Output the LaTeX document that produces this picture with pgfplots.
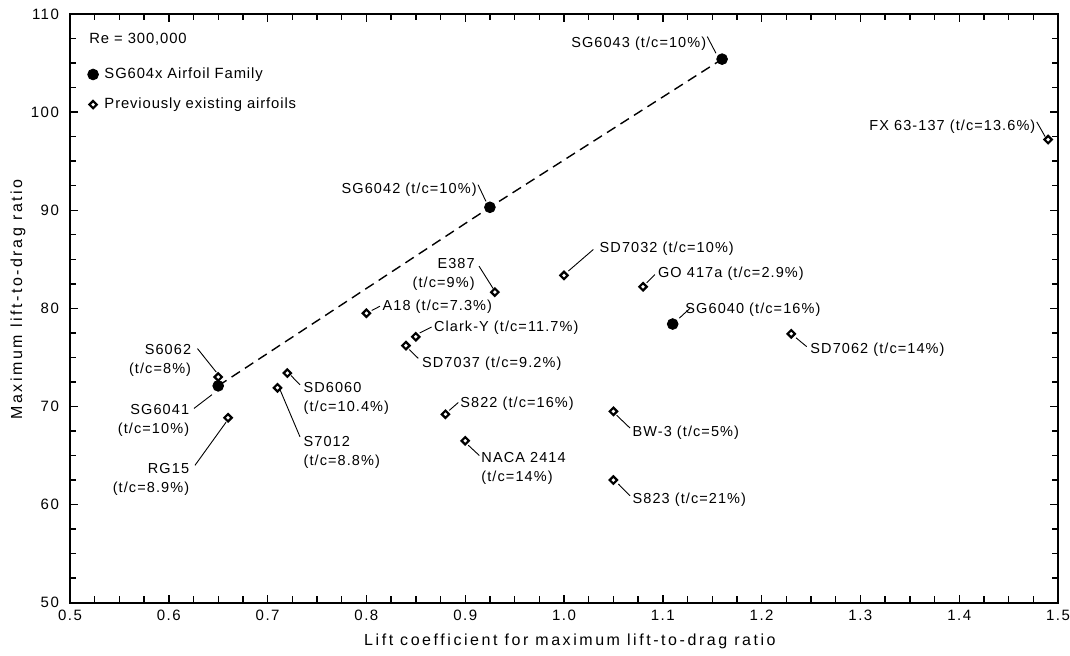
\documentclass[border=0pt]{standalone}
\usepackage{fontspec}
\setmainfont{Liberation Sans}
\newfontfamily\annfont[LetterSpace=7.5]{Liberation Sans}
\newfontfamily\legfont[LetterSpace=6]{Liberation Sans}
\newfontfamily\tickfont[LetterSpace=10]{Liberation Sans}
\newfontfamily\labfont[LetterSpace=16]{Liberation Sans}
\usepackage{pgfplots}
\pgfplotsset{compat=1.18}
\newcommand\annf{\annfont\fontsize{7.25}{9.5}\selectfont}
\newcommand\legf{\legfont\fontsize{7.4}{9}\selectfont}
\begin{document}
\begin{tikzpicture}
\path[use as bounding box] (-35pt,-26.65pt) rectangle (500pt,301.35pt);
\begin{axis}[
  at={(0pt,0pt)}, anchor=south west,
  scale only axis, width=494pt, height=294.35pt,
  xmin=0.5, xmax=1.5, ymin=50, ymax=110,
  xtick={0.5,0.6,0.7,0.8,0.9,1.0,1.1,1.2,1.3,1.4,1.5},
  ytick={50,60,70,80,90,100,110},
  minor x tick num=3, minor y tick num=3,
  xtick pos=both, ytick pos=both,
  xticklabel pos=lower, yticklabel pos=left,
  tick align=inside,
  major tick length=4pt, minor tick length=3.2pt,
  axis line style={line width=0.85pt},
  every tick/.style={line width=0.7pt, black},
  /pgf/number format/assume math mode=true,
  xticklabel style={/pgf/number format/fixed, /pgf/number format/fixed zerofill, /pgf/number format/precision=1},
  tick label style={font=\tickfont\fontsize{7.5}{9}\selectfont},
  yticklabel style={xshift=-2pt},
  xlabel={Lift coefficient for maximum lift-to-drag ratio},
  ylabel={Maximum lift-to-drag ratio},
  label style={font=\labfont\fontsize{8}{9.6}\selectfont},
  xlabel style={at={(axis description cs:0.506,-0.0652)}, anchor=center},
  ylabel style={at={(axis description cs:-0.0526,0.515)}, anchor=center},
  clip=false,
  legend style={draw=none, fill=none, inner sep=0pt, at={(axis description cs:0.0175,0.913)}, anchor=north west,
    nodes={inner sep=1pt}, row sep=6.2pt, font=\legf,
    /tikz/every odd column/.append style={column sep=2pt}},
  legend cell align=left,
  legend image code/.code={\draw[mark repeat=2,mark phase=2,#1] plot coordinates {(0pt,0pt) (2.5pt,0pt) (5pt,0pt)};},
]
% dashed trend line through the SG604x family
\addplot[forget plot, black, line width=0.7pt, dash pattern=on 5pt off 3pt] coordinates {
  (0.65,72.1) (0.925,90.3) (1.16,105.4)
};
\addplot[only marks, mark=*, mark size=2.7pt, black] coordinates {
  (1.11,78.4) (0.65,72.1) (0.925,90.3) (1.16,105.4)
};
\addlegendentry{SG604x Airfoil Family}
\addplot[only marks, mark=square*, mark size=1.3pt,
  mark options={rotate=45, fill=white, draw=black, line width=1.1pt}] coordinates {
  (0.65,73.0) (0.66,68.85) (0.71,71.9) (0.72,73.4) (0.80,79.5) (0.84,76.2)
  (0.85,77.1) (0.93,81.65) (0.88,69.2) (0.90,66.5) (1.00,83.35) (1.08,82.2)
  (1.05,69.5) (1.05,62.5) (1.23,77.4) (1.49,97.2)
};
\addlegendentry{Previously existing airfoils}

\node[anchor=west, inner sep=0pt, font=\legf] at (axis cs:0.5192,107.41) {Re = 300,000};

\begin{scope}[line width=0.45pt]
\node[anchor=east, inner sep=0pt, font=\annf] at (axis cs:1.1444,107.0) {SG6043 (t/c=10\%)};
\draw (axis cs:1.1450,107.7) -- (axis cs:1.1538,106.0);
\node[anchor=east, inner sep=0pt, font=\annf] at (axis cs:1.4775,98.5) {FX 63-137 (t/c=13.6\%)};
\draw (axis cs:1.4785,99.0) -- (axis cs:1.487,97.5);
\node[anchor=east, inner sep=0pt, font=\annf] at (axis cs:0.912,92.1) {SG6042 (t/c=10\%)};
\draw (axis cs:0.913,92.6) -- (axis cs:0.921,90.9);
\node[anchor=east, align=right, inner sep=0pt, font=\annf] at (axis cs:0.910,83.5) {E387\\(t/c=9\%)};
\draw (axis cs:0.914,84.3) -- (axis cs:0.9284,82.0);
\node[anchor=west, inner sep=0pt, font=\annf] at (axis cs:0.816,80.2) {A18 (t/c=7.3\%)};
\draw (axis cs:0.8054,79.78) -- (axis cs:0.8138,80.22);
\node[anchor=west, inner sep=0pt, font=\annf] at (axis cs:0.868,78.0) {Clark-Y (t/c=11.7\%)};
\draw (axis cs:0.854,77.5) -- (axis cs:0.866,78.1);
\node[anchor=west, inner sep=0pt, font=\annf] at (axis cs:0.856,74.4) {SD7037 (t/c=9.2\%)};
\draw (axis cs:0.8434,75.8) -- (axis cs:0.8525,74.9);
\node[anchor=west, inner sep=0pt, font=\annf] at (axis cs:1.0357,86.1) {SD7032 (t/c=10\%)};
\draw (axis cs:1.0044,83.8) -- (axis cs:1.0297,86.0);
\node[anchor=west, inner sep=0pt, font=\annf] at (axis cs:1.0948,83.5) {GO 417a (t/c=2.9\%)};
\draw (axis cs:1.0837,82.6) -- (axis cs:1.092,83.45);
\node[anchor=west, inner sep=0pt, font=\annf] at (axis cs:1.1225,79.9) {SG6040 (t/c=16\%)};
\draw (axis cs:1.1167,79.0) -- (axis cs:1.1275,80.0);
\node[anchor=west, inner sep=0pt, font=\annf] at (axis cs:1.249,75.8) {SD7062 (t/c=14\%)};
\draw (axis cs:1.2348,77.0) -- (axis cs:1.2456,76.1);
\node[anchor=east, align=right, inner sep=0pt, font=\annf] at (axis cs:0.623,74.7) {S6062\\(t/c=8\%)};
\draw (axis cs:0.629,75.9) -- (axis cs:0.648,73.5);
\node[anchor=east, align=right, inner sep=0pt, font=\annf] at (axis cs:0.621,68.6) {SG6041\\(t/c=10\%)};
\draw (axis cs:0.6255,69.8) -- (axis cs:0.6437,71.2);
\node[anchor=east, align=right, inner sep=0pt, font=\annf] at (axis cs:0.621,62.6) {RG15\\(t/c=8.9\%)};
\draw (axis cs:0.6265,64.0) -- (axis cs:0.658,68.4);
\node[anchor=west, align=left, inner sep=0pt, font=\annf] at (axis cs:0.736,70.85) {SD6060\\(t/c=10.4\%)};
\draw (axis cs:0.7237,73.15) -- (axis cs:0.7328,72.2);
\node[anchor=west, align=left, inner sep=0pt, font=\annf] at (axis cs:0.736,65.3) {S7012\\(t/c=8.8\%)};
\draw (axis cs:0.7126,71.7) -- (axis cs:0.7328,66.9);
\node[anchor=west, inner sep=0pt, font=\annf] at (axis cs:0.8947,70.3) {S822 (t/c=16\%)};
\draw (axis cs:0.8839,69.6) -- (axis cs:0.893,70.4);
\node[anchor=west, align=left, inner sep=0pt, font=\annf] at (axis cs:0.916,63.7) {NACA 2414\\(t/c=14\%)};
\draw (axis cs:0.9031,66.05) -- (axis cs:0.9143,65.0);
\node[anchor=west, inner sep=0pt, font=\annf] at (axis cs:1.069,67.35) {BW-3 (t/c=5\%)};
\draw (axis cs:1.0533,69.1) -- (axis cs:1.0668,67.8);
\node[anchor=west, inner sep=0pt, font=\annf] at (axis cs:1.069,60.5) {S823 (t/c=21\%)};
\draw (axis cs:1.055,62.1) -- (axis cs:1.0668,60.9);
\end{scope}
\end{axis}
\end{tikzpicture}
\end{document}
